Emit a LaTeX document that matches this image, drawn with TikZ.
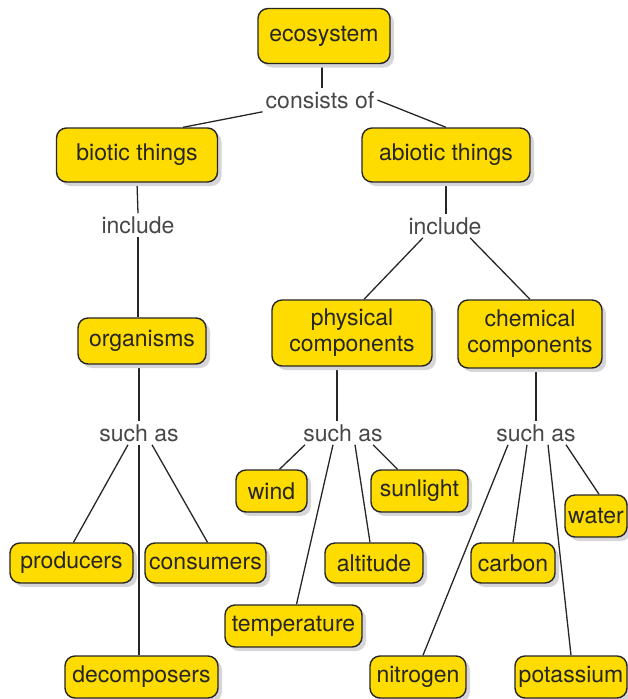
\documentclass[tikz,border=0pt]{standalone}
\usepackage{fontspec}
\setmainfont{TeX Gyre Heros}
\usetikzlibrary{shapes,shadows,backgrounds}
\definecolor{conceptfill}{HTML}{FFDC00}
\definecolor{inkgray}{HTML}{262626}
\definecolor{shadowgray}{HTML}{D6D6DA}

\begin{document}
\begin{tikzpicture}[x=1pt,y=-1pt,
  concept/.style={draw=inkgray,line width=1.4pt,fill=conceptfill,rounded corners=10pt,
    align=center,text=inkgray,inner sep=0pt,font=\fontsize{23}{26}\selectfont,
    drop shadow={shadow xshift=4pt,shadow yshift=-4pt,fill=shadowgray,opacity=1}},
  linkword/.style={text=inkgray!85,inner sep=3pt,font=\fontsize{23}{26}\selectfont},
  link/.style={draw=inkgray,line width=1.3pt}]
  \useasboundingbox (0,0) rectangle (627,699);
  % concepts: name/x/y/width/height/text
  \foreach \n/\x/\y/\w/\h/\t in {
      eco/324/36/132/55/ecosystem,
      bio/137/155/161/54/biotic things,
      abio/446/155/168/54/abiotic things,
      org/142/341/128/46/organisms,
      phys/352/333/160/66/{physical\\components},
      chem/530/334/144/68/{chemical\\components},
      wind/271.5/491/71/42/wind,
      sun/419.5/491/97/42/sunlight,
      prod/71.5/563/123/40/producers,
      consu/205.5/563/121/40/consumers,
      alt/374/563/98/40/altitude,
      carb/513/563/84/40/carbon,
      water/596/516/62/42/water,
      temp/293.5/626/137/42/temperature,
      dec/141.5/677/153/42/decomposers,
      nit/418/677/96/42/nitrogen,
      pot/571/677/112/42/potassium}
    \node[concept,minimum width=\w,minimum height=\h] (\n) at (\x,\y) {\t};
  % linking words
  \node[linkword] (consists) at (320,100) {consists of};
  \node[linkword] (inc1) at (138,225) {include};
  \node[linkword] (inc2) at (445,226) {include};
  \node[linkword] (sa1) at (139,433) {such as};
  \node[linkword] (sa2) at (343,433) {such as};
  \node[linkword] (sa3) at (536,433) {such as};

  \begin{scope}[on background layer]
    \draw[link] ([xshift=-2pt]eco.south) -- ([xshift=-2pt]eco.south |- consists.north);
    \draw[link] (consists.south west) -- ([xshift=46pt]bio.north);
    \draw[link] (consists.east) -- (abio.north);
    \draw[link] (bio.south) -- (inc1.north);
    \draw[link] (inc1.south) -- (inc1.south |- org.north);
    \draw[link] (sa1.north) -- (sa1.north |- org.south);
    \draw[link] ([xshift=-11pt]sa1.south) -- ([xshift=2pt]prod.north);
    \draw[link] (sa1.south) -- (sa1.south |- dec.north);
    \draw[link] ([xshift=13pt]sa1.south) -- ([xshift=2pt]consu.north);
    \draw[link] (abio.south) -- (abio.south |- inc2.north);
    \draw[link] ([xshift=-22pt]inc2.south) -- ([xshift=12pt]phys.north);
    \draw[link] ([xshift=25pt]inc2.south) -- (chem.north);
    \draw[link] ([xshift=-6pt]sa2.north) -- ([xshift=-6pt]sa2.north |- phys.south);
    \draw[link] ([xshift=-38pt]sa2.south) -- ([xshift=8pt]wind.north);
    \draw[link] ([xshift=-10pt]sa2.south) -- ([xshift=3pt]temp.north);
    \draw[link] ([xshift=12pt]sa2.south) -- ([xshift=-4pt]alt.north);
    \draw[link] ([xshift=30pt]sa2.south) -- ([xshift=-22pt]sun.north);
    \draw[link] (sa3.north) -- (sa3.north |- chem.south);
    \draw[link] ([xshift=-28pt]sa3.south) -- ([xshift=5pt]nit.north);
    \draw[link] ([xshift=-9pt]sa3.south) -- (carb.north);
    \draw[link] ([xshift=12pt]sa3.south) -- (pot.north);
    \draw[link] ([xshift=30pt]sa3.south) -- ([xshift=3pt]water.north);
  \end{scope}
\end{tikzpicture}
\end{document}
